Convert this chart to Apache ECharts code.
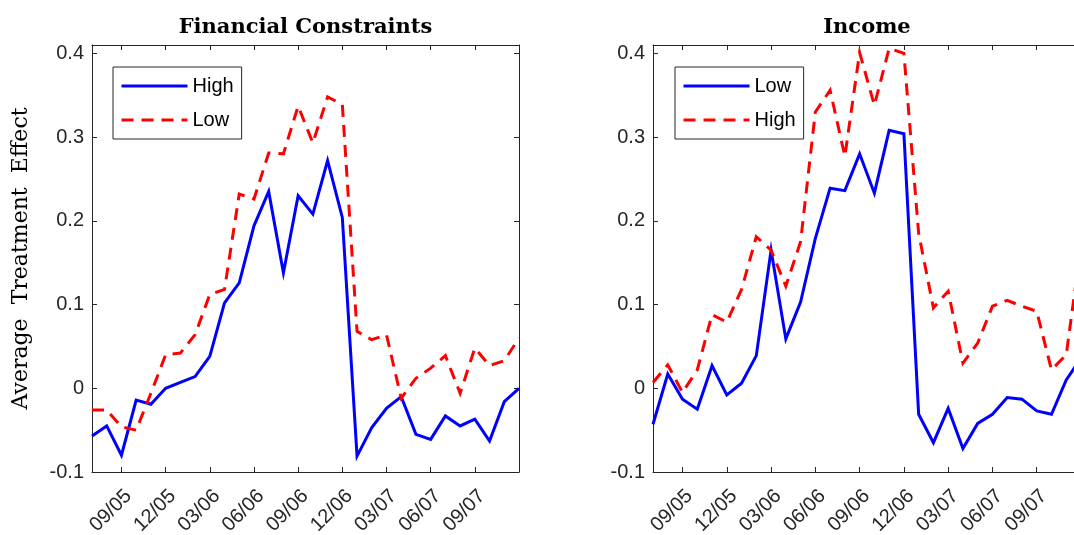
<!DOCTYPE html>
<html>
<head>
<meta charset="utf-8">
<script src="https://cdn.jsdelivr.net/npm/echarts@6/dist/echarts.min.js"></script>
<style>
  html, body { margin: 0; padding: 0; background: #ffffff; overflow: hidden; }
  #chart { width: 1074px; height: 535px; }
</style>
</head>
<body>
<div id="chart"></div>
<script>
// Monthly observation dates (MM/YY)
const months = ['07/05', '08/05', '09/05', '10/05', '11/05', '12/05',
                '01/06', '02/06', '03/06', '04/06', '05/06', '06/06',
                '07/06', '08/06', '09/06', '10/06', '11/06', '12/06',
                '01/07', '02/07', '03/07', '04/07', '05/07', '06/07',
                '07/07', '08/07', '09/07', '10/07', '11/07', '12/07'];

// Panel titles
const panelTitles = ['Financial Constraints', 'Income'];
const yAxisTitle = 'Average  Treatment  Effect';

// Financial constraints panel
const fcHigh = [-0.057, -0.045, -0.080, -0.014, -0.019, 0.000, 0.007, 0.014, 0.038, 0.102,
                0.126, 0.194, 0.235, 0.138, 0.230, 0.208, 0.272, 0.204, -0.081, -0.047,
                -0.024, -0.010, -0.055, -0.061, -0.033, -0.045, -0.037, -0.063, -0.016, 0.000];
const fcLow = [-0.026, -0.026, -0.046, -0.050, -0.006, 0.040, 0.042, 0.064, 0.112, 0.118,
               0.232, 0.226, 0.281, 0.280, 0.337, 0.293, 0.348, 0.339, 0.068, 0.058,
               0.064, -0.012, 0.012, 0.024, 0.039, -0.006, 0.048, 0.027, 0.033, 0.060];

// Income panel
const incLow = [-0.043, 0.017, -0.013, -0.025, 0.027, -0.008, 0.006, 0.039, 0.165, 0.059,
                0.103, 0.179, 0.239, 0.236, 0.280, 0.233, 0.308, 0.304, -0.031, -0.065,
                -0.024, -0.072, -0.042, -0.031, -0.011, -0.013, -0.027, -0.031, 0.010, 0.036];
const incHigh = [0.007, 0.028, -0.005, 0.022, 0.088, 0.079, 0.118, 0.181, 0.165, 0.122,
                 0.175, 0.330, 0.356, 0.277, 0.401, 0.338, 0.406, 0.400, 0.185, 0.096,
                 0.116, 0.030, 0.054, 0.098, 0.105, 0.098, 0.092, 0.022, 0.040, 0.170];

// Y axis range and step
const yMin = -0.1, yMax = 0.41, yStep = 0.1;

const AXIS_COLOR = '#262626';
const SANS = 'Liberation Sans, Arial, sans-serif';
const SERIF = 'DejaVu Serif, serif';
const TICK_FONT = 20;

const grids = [
  { left: 92, top: 45, width: 427, height: 427, outerBoundsMode: 'none', containLabel: false },
  { left: 653, top: 45, width: 428, height: 427, outerBoundsMode: 'none', containLabel: false }
];

// quarterly ticks: 09/05, 12/05, ..., 09/07
const quarterly = (idx) => idx % 3 === 2 && idx < months.length - 1;

function xAxes(gridIndex) {
  const base = {
    type: 'category', gridIndex, data: months, boundaryGap: false,
    axisLine: { onZero: false, lineStyle: { color: AXIS_COLOR, width: 1 } },
    axisTick: { inside: true, length: 5, interval: quarterly, lineStyle: { color: AXIS_COLOR } },
    splitLine: { show: false }
  };
  return [
    Object.assign({}, base, {
      position: 'bottom',
      axisLabel: {
        interval: quarterly, rotate: 45, margin: 14, color: AXIS_COLOR,
        fontFamily: SANS, fontSize: TICK_FONT, align: 'right', verticalAlign: 'top'
      }
    }),
    Object.assign({}, base, { position: 'top', axisLabel: { show: false } })
  ];
}

function yAxes(gridIndex, withName) {
  const base = {
    type: 'value', gridIndex, min: yMin, max: yMax, interval: yStep,
    axisLine: { show: true, onZero: false, lineStyle: { color: AXIS_COLOR, width: 1 } },
    axisTick: { show: true, inside: true, length: 5, lineStyle: { color: AXIS_COLOR } },
    splitLine: { show: false }
  };
  const left = Object.assign({}, base, {
    position: 'left',
    axisLabel: {
      margin: 8, color: AXIS_COLOR, fontFamily: SANS, fontSize: TICK_FONT,
      showMaxLabel: false,
      formatter: (v) => (Math.abs(v) < 1e-9 ? '0' : (Math.round(v * 10) / 10).toString())
    }
  });
  if (withName) {
    Object.assign(left, {
      name: yAxisTitle, nameLocation: 'middle', nameRotate: 90, nameGap: 60,
      nameTextStyle: { fontFamily: SERIF, fontSize: 22, color: '#000' }
    });
  }
  const right = Object.assign({}, base, { position: 'right', axisLabel: { show: false } });
  return [left, right];
}

function lineSeries(name, data, gridIdx, color, dashed) {
  return {
    name, type: 'line', data,
    xAxisIndex: gridIdx * 2, yAxisIndex: gridIdx * 2,
    symbol: 'none', showSymbol: false,
    lineStyle: { color, width: 3, type: dashed ? [12, 8] : 'solid', cap: 'butt', join: 'miter' },
    itemStyle: { color },
    emphasis: { disabled: true }
  };
}

function legend(left, names) {
  return {
    left, top: 67, orient: 'vertical', selectedMode: false,
    data: names,
    formatter: (n) => n.split(': ')[1],
    itemWidth: 66, itemHeight: 14, itemGap: 14,
    padding: [9, 8, 9, 7],
    borderColor: AXIS_COLOR, borderWidth: 1, backgroundColor: '#ffffff',
    itemStyle: { color: 'rgba(0,0,0,0)', borderWidth: 0, opacity: 0 },
    lineStyle: { width: 3 },
    textStyle: { fontFamily: SANS, fontSize: TICK_FONT, color: '#000' }
  };
}

const chart = echarts.init(document.getElementById('chart'), null, { renderer: 'canvas' });
chart.setOption({
  animation: false,
  backgroundColor: '#ffffff',
  title: panelTitles.map((t, i) => ({
    text: t,
    left: grids[i].left + grids[i].width / 2,
    textAlign: 'center',
    top: 17, padding: 0,
    textStyle: { fontFamily: SERIF, fontWeight: 'bold', fontSize: 21, color: '#000' }
  })),
  grid: grids,
  xAxis: [...xAxes(0), ...xAxes(1)],
  yAxis: [...yAxes(0, true), ...yAxes(1, false)],
  legend: [
    legend(113, ['Financial Constraints: High', 'Financial Constraints: Low']),
    legend(675, ['Income: Low', 'Income: High'])
  ],
  series: [
    lineSeries('Financial Constraints: High', fcHigh, 0, '#0000ff', false),
    lineSeries('Financial Constraints: Low', fcLow, 0, '#ff0000', true),
    lineSeries('Income: Low', incLow, 1, '#0000ff', false),
    lineSeries('Income: High', incHigh, 1, '#ff0000', true)
  ]
});
</script>
</body>
</html>
